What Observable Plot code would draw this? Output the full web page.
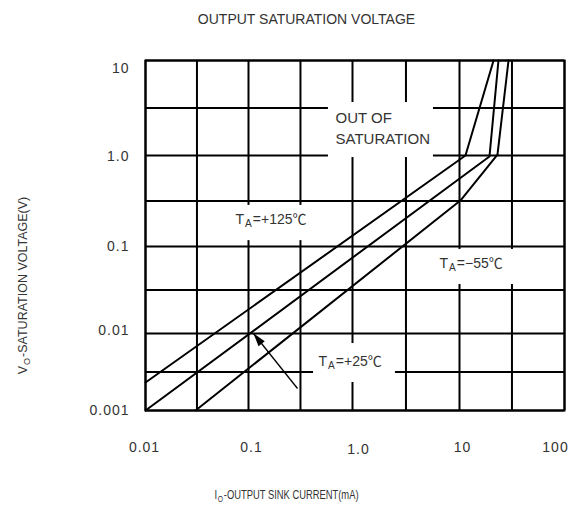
<!DOCTYPE html>
<html><head><meta charset="utf-8">
<script src="https://cdn.jsdelivr.net/npm/d3@7"></script>
<script src="https://cdn.jsdelivr.net/npm/@observablehq/plot@0.6"></script>
<style>
body{margin:0;background:#fff;}
svg text{font-family:"Liberation Sans",Arial,"Noto Sans CJK KR",sans-serif;}
g[aria-label="x-axis tick label"] text, g[aria-label="y-axis tick label"] text{letter-spacing:1px;}
</style></head><body><div id="chart"></div>
<script>
// ticks and grid
const xTicks = [0.01, 0.1, 1, 10, 100];
const xTickLabels = ["0.01", "0.1", "1.0", "10", "100"];
const yTicks = [0.001, 0.01, 0.1, 1, 10];
const yTickLabels = ["0.001", "0.01", "0.1", "1.0", "10"];
const xGrid = [0.01, 0.0316, 0.1, 0.316, 1, 3.16, 10, 31.6, 100];
const yGrid = [0.001, 0.00316, 0.01, 0.0316, 0.1, 0.316, 1, 3.16, 10];

// series: output sink current (mA) vs saturation voltage (V)
const series = ["+125", "+25", "-55"];
const current125 = [0.01, 11.4, 21.1];
const voltage125 = [0.00231, 1.0, 10];
const current25 = [0.01, 19.3, 23.5];
const voltage25 = [0.001, 0.975, 10];
const currentM55 = [0.0306, 10.2, 23.0, 29.3];
const voltageM55 = [0.001, 0.32, 1.02, 10];

// annotations (data coordinates)
const labelTexts = ["OUT OF\nSATURATION", "T_{A}=+125℃", "T_{A}=−55℃", "T_{A}=+25℃"];
const labelX = [0.687, 0.0748, 6.5, 0.471];
const labelY = [2.02, 0.198, 0.0638, 0.00433];
const boxX1 = [0.587, 0.0598, 4.81, 0.422];
const boxX2 = [5.71, 0.492, 42.5, 2.52];
const boxY1 = [0.95, 0.116, 0.0366, 0.00231];
const boxY2 = [3.61, 0.283, 0.0925, 0.00741];
const arrowTail = [0.296, 0.00193];
const arrowTip = [0.1117, 0.01];

const titleText = "OUTPUT SATURATION VOLTAGE";
const xTitle = "I_{O}-OUTPUT SINK CURRENT(mA)";
const yTitle = "V_{O}-SATURATION VOLTAGE(V)";

const curves = [
  ...current125.map((x, i) => ({x, y: voltage125[i], s: series[0]})),
  ...current25.map((x, i) => ({x, y: voltage25[i], s: series[1]})),
  ...currentM55.map((x, i) => ({x, y: voltageM55[i], s: series[2]}))
];
const boxes = boxX1.map((x1, i) => ({x1, x2: boxX2[i], y1: boxY1[i], y2: boxY2[i]}));
const labels = labelTexts.map((t, i) => ({t, x: labelX[i], y: labelY[i]}));

const arrowHead = {draw(ctx) { ctx.moveTo(0, 0); ctx.lineTo(-4, 13); ctx.lineTo(4, 13); ctx.closePath(); }};

const xDx = [-1, 3, 6, 3, -9], xDy = [0, 0, 2, 0, 0];
const yDy = [0, -3, 0, 1, 8];

const plot = Plot.plot({
  width: 580, height: 511,
  marginTop: 60, marginBottom: 101, marginLeft: 145, marginRight: 16,
  x: {type: "log", domain: xTicks, range: [145, 248, 352, 459, 564]},
  y: {type: "log", domain: yTicks, range: [410, 333, 246, 155, 60]},
  style: {fontSize: "14px", color: "#333", background: "white", overflow: "visible"},
  marks: [
    Plot.ruleX(xGrid, {stroke: "black", strokeWidth: 2}),
    Plot.ruleY(yGrid, {stroke: "black", strokeWidth: 2}),
    Plot.rect(boxes, {x1: "x1", x2: "x2", y1: "y1", y2: "y2", fill: "white"}),
    Plot.line(curves, {x: "x", y: "y", z: "s", stroke: "black", strokeWidth: 2}),
    Plot.link([0], {x1: () => arrowTail[0], y1: () => arrowTail[1], x2: () => arrowTip[0], y2: () => arrowTip[1], stroke: "black", strokeWidth: 1.3}),
    Plot.dot([0], {x: () => arrowTip[0], y: () => arrowTip[1], symbol: arrowHead, fill: "black", stroke: "none", rotate: -38.7}),
    Plot.text([labels[0]], {x: "x", y: "y", text: "t", textAnchor: "start", fontSize: 15, lineHeight: 1.4, fill: "#333"}),
    Plot.text(labels.slice(1), {x: "x", y: "y", text: "t", textAnchor: "start", fontSize: 14, fill: "#333"}),
    Plot.frame({stroke: "black", strokeWidth: 2}),
    ...xTicks.map((t, i) => Plot.axisX([t], {tickSize: 0, tickPadding: 32, tickFormat: () => xTickLabels[i], dx: xDx[i], dy: xDy[i], label: null, fill: "#333"})),
    ...yTicks.map((t, i) => Plot.axisY([t], {tickSize: 0, tickPadding: 16, tickFormat: () => yTickLabels[i], dy: yDy[i], label: null, fill: "#333"})),
    Plot.text([titleText], {frameAnchor: "top", dx: -48.5, dy: -46.5, fontSize: 14, fill: "#333"}),
    Plot.text([xTitle], {frameAnchor: "bottom", textAnchor: "middle", dx: -68.5, dy: 88, fontSize: 13, fill: "#333"}),
    Plot.text([yTitle], {frameAnchor: "left", textAnchor: "middle", dx: -123, dy: 50, rotate: -90, fontSize: 12.5, fill: "#333"})
  ]
});

// subscripts
d3.select(plot).selectAll("text").each(function () {
  const txt = this.textContent;
  if (!/_\{/.test(txt) || this.querySelector("tspan")) return;
  const sel = d3.select(this);
  sel.text(null);
  let down = false;
  txt.split(/(_\{[^}]*\})/).forEach(p => {
    if (!p) return;
    const sub = p.startsWith("_{");
    const ts = sel.append("tspan").text(sub ? p.slice(2, -1) : p);
    if (sub) { ts.attr("font-size", "72%").attr("dy", "3px").attr("dx", "1px"); down = true; }
    else if (down) { ts.attr("dy", "-3px").attr("dx", "1px"); down = false; }
  });
  if (txt.includes("SINK CURRENT")) sel.attr("textLength", 144).attr("lengthAdjust", "spacingAndGlyphs");
});

document.getElementById("chart").append(plot);
</script></body></html>
